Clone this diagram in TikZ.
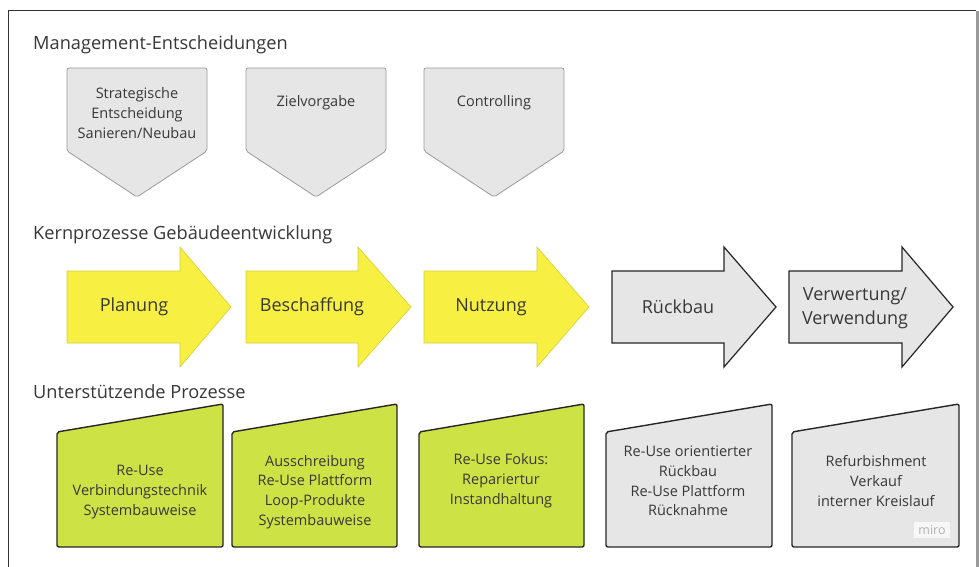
\documentclass[tikz,border=0pt]{standalone}
\usepackage{fontspec}
\setmainfont{Open Sans}
\definecolor{txt}{HTML}{383838}
\definecolor{grayfill}{HTML}{E6E6E6}
\definecolor{graystroke}{HTML}{9A9A9A}
\definecolor{yel}{HTML}{F7EF42}
\definecolor{yelstroke}{HTML}{D6CE3A}
\definecolor{lime}{HTML}{CDE245}
\tikzset{
  heading/.style={anchor=west,inner sep=0pt,text=txt,font=\fontsize{18.2}{22}\selectfont},
  small/.style={align=center,inner sep=0pt,text=txt,font=\fontsize{14.5}{19.8}\selectfont},
  big/.style={align=center,inner sep=0pt,text=txt,font=\fontsize{18}{24}\selectfont},
  pent/.style={fill=grayfill,draw=graystroke,line width=0.8pt,rounded corners=2pt},
  yarrow/.style={fill=yel,draw=yelstroke,line width=0.6pt},
  garrow/.style={fill=grayfill,draw=black!85,line width=1.2pt},
  gtrap/.style={fill=lime,draw=black!85,line width=1.4pt,rounded corners=2pt},
  ttrap/.style={fill=grayfill,draw=black!85,line width=1.4pt,rounded corners=2pt},
}
\begin{document}
\begin{tikzpicture}[x=1pt,y=-1pt]
\useasboundingbox (0,0) rectangle (979,567);
\fill[white] (0,0) rectangle (979,567);
% frame
\draw[black!80,line width=1pt] (8,567) -- (8,11) -- (976,11);
\fill[graystroke] (976,11) rectangle (979,567);

% headings
\node[heading] (h1) at (33,45) {Management-Entscheidungen};
\node[heading] (h2) at (33,235) {Kernprozesse Gebäudeentwicklung};
\node[heading] (h3) at (33,392) {Unterstützende Prozesse};

% management pentagons
\foreach \l/\r in {67/207,246/386,424/564}{
  \pgfmathsetmacro\m{(\l+\r)/2}
  \draw[pent] (\l,68) -- (\r,68) -- (\r,151) -- (\m,197) -- (\l,151) -- cycle;
}
\node[small] (m1) at (137,113) {Strategische\\Entscheidung\\Sanieren/Neubau};
\node[small] (m2) at (316,103) {Zielvorgabe};
\node[small] (m3) at (494,103) {Controlling};

% core process arrows
\foreach \l/\h/\t in {67/180/231,246/358/411,424/537/589}{
  \draw[yarrow] (\l,271) -- (\h,271) -- (\h,247) -- (\t,307) -- (\h,367) -- (\h,343) -- (\l,343) -- cycle;
}
\foreach \l/\h/\t in {612/724/776,789/902/953}{
  \draw[garrow] (\l,271) -- (\h,271) -- (\h,247) -- (\t,307) -- (\h,367) -- (\h,343) -- (\l,343) -- cycle;
}
\node[big] (k1) at (134,307) {Planung};
\node[big] (k2) at (312,307) {Beschaffung};
\node[big] (k3) at (491,307) {Nutzung};
\node[big] (k4) at (678,307) {Rückbau};
\node[big] (k5) at (855,308) {Verwertung/\\Verwendung};

% supporting trapezoids
\foreach \l/\r in {57/223,232/397,419/584}{
  \draw[gtrap] (\l,432) -- (\r,404) -- (\r,547) -- (\l,547) -- cycle;
}
\foreach \l/\r in {606/772,792/959}{
  \draw[ttrap] (\l,432) -- (\r,404) -- (\r,547) -- (\l,547) -- cycle;
}
\node[small] (u1) at (140,492) {Re-Use\\Verbindungstechnik\\Systembauweise};
\node[small] (u2) at (315,492) {Ausschreibung\\Re-Use Plattform\\Loop-Produkte\\Systembauweise};
\node[small] (u3) at (501,481) {Re-Use Fokus:\\Repariertur\\Instandhaltung};
\node[small] (u4) at (688,481) {Re-Use orientierter\\Rückbau\\Re-Use Plattform\\Rücknahme};
\node[small] (u5) at (876,481) {Refurbishment\\Verkauf\\interner Kreislauf};
\node[inner xsep=4pt,inner ysep=3pt,fill=black!3,text=black!30,font=\fontsize{12.5}{14}\selectfont] (miro) at (932,530) {miro};
\end{tikzpicture}
\end{document}
